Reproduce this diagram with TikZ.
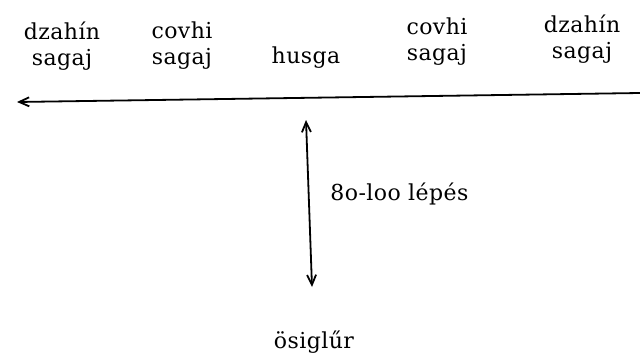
\documentclass[tikz,border=0pt]{standalone}
\usepackage{fontspec}
\newfontfamily\lblfont{DejaVu Serif}[LetterSpace=2]
\usetikzlibrary{arrows.meta}

\begin{document}
\begin{tikzpicture}[x=0.5pt,y=-0.5pt,
			>={Straight Barb[length=5pt,width=4.5pt]},
			every node/.style={
				inner sep=0pt,
				align=center,
				font=\fontsize{11}{13}\selectfont\lblfont
			}]
			
			\useasboundingbox (0,0) rectangle (640,353);
			
			\node(dzl) at (62,46){dzahín\\sagaj};
			
			\node(cvl) at (182,46){covhi\\sagaj};
			
			\node(hus)[anchor=base] at (306,63){husga};
			
			\node(cvr) at (437,42){covhi\\sagaj};
			
			\node(dzr) at (582,39.5){dzahín\\sagaj};
			
			\node(lep)[anchor=base west] at (330,200){8o-loo lépés};
			
			\node(osi)[anchor=base] at (314,348){ösiglűr};
			
			\coordinate(east) at (640,93);
			\coordinate(west) at (17,102);
			\coordinate(top) at (306,120);
			\coordinate(bot) at (312,287);
			
			\draw[->,line width=0.9pt](east)--(west);
			
			\draw[<->,line width=0.9pt](top)--(bot);
			
		\end{tikzpicture}
\end{document}
